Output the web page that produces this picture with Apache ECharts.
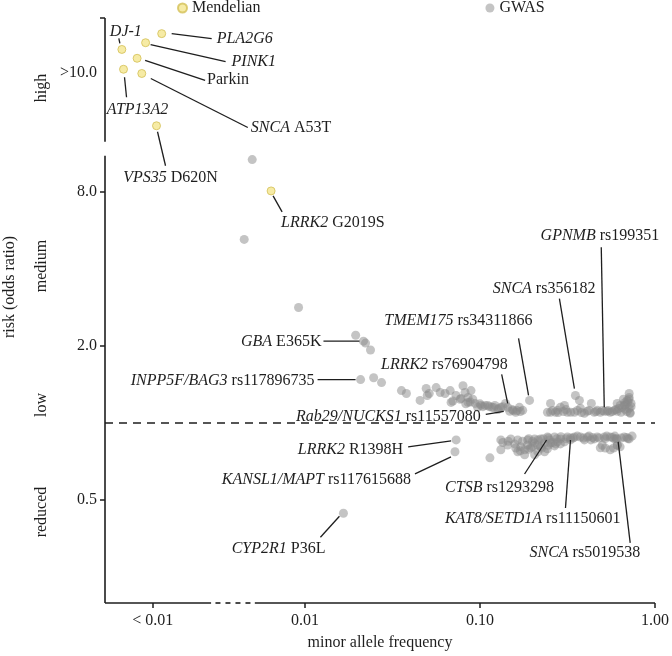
<!DOCTYPE html>
<html>
<head>
<meta charset="utf-8">
<script src="https://cdn.jsdelivr.net/npm/echarts@6/dist/echarts.min.js"></script>
<style>
html, body { margin: 0; padding: 0; background: #fff; }
#chart { width: 672px; height: 656px; }
</style>
</head>
<body>
<div id="chart"></div>
<script>
var FONT = '"Liberation Serif", "Times New Roman", serif';
var INK = '#1e1e1e';

// axes run in log10(MAF) and log2(odds ratio)
var X_MIN = -3.142, X_MAX = 0;
var Y_MIN = -2.333, Y_MAX = 5.256;

var xTickMaf = [0.00135, 0.01, 0.1, 1];
var xTickLabels = ['< 0.01', '0.01', '0.10', '1.00'];
var yTickOr = [23.4, 8, 2, 0.5];
var yTickLabels = ['>10.0', '8.0', '2.0', '0.5'];

// Mendelian variants
var mendelianGene = ['DJ-1', 'PLA2G6', 'PINK1', 'Parkin', 'ATP13A2', 'SNCA', 'VPS35', 'LRRK2'];
var mendelianVariant = ['', '', '', '', '', 'A53T', 'D620N', 'G2019S'];
var mendelianMaf = [0.00090, 0.00152, 0.00123, 0.00110, 0.00092, 0.00117, 0.00142, 0.00641];
var mendelianOr = [28.8, 33.2, 30.6, 26.6, 24.1, 23.2, 14.5, 8.07];

// GWAS hits that carry a label
var gwasLabelGene = ['GBA', 'INPP5F/BAG3', 'TMEM175', 'LRRK2', 'Rab29/NUCKS1', 'SNCA', 'GPNMB',
    'LRRK2', 'KANSL1/MAPT', 'CYP2R1', 'CTSB', 'KAT8/SETD1A', 'SNCA'];
var gwasLabelVariant = ['E365K', 'rs117896735', 'rs34311866', 'rs76904798', 'rs11557080', 'rs356182', 'rs199351',
    'R1398H', 'rs117615688', 'P36L', 'rs1293298', 'rs11150601', 'rs5019538'];
var gwasLabelMaf = [0.0216, 0.0208, 0.192, 0.144, 0.148, 0.351, 0.513, 0.0731, 0.072, 0.0166, 0.2466, 0.329, 0.608];
var gwasLabelOr = [2.09, 1.48, 1.227, 1.153, 1.112, 1.282, 1.112, 0.86, 0.773, 0.445, 0.875, 0.875, 0.868];

// other GWAS hits
var gwasMaf = [
    0.0050, 0.0045, 0.0092, 0.0195, 0.0222, 0.0237, 0.0247, 0.0274, 0.0356, 0.0380,
    0.0493, 0.0513, 0.050, 0.0562, 0.0593, 0.0632, 0.0676, 0.080, 0.0822, 0.0889,
    0.0684, 0.078, 0.0855, 0.0937, 0.1013, 0.111, 0.1217, 0.1316, 0.160, 0.1755,
    0.097, 0.107, 0.117, 0.140, 0.077, 0.0855, 0.073, 0.091, 0.1265, 0.153,
    0.168, 0.0455, 0.07, 0.083, 0.088, 0.1, 0.104, 0.113, 0.12, 0.128,
    0.135, 0.155, 0.163, 0.17,
    0.253, 0.277, 0.304, 0.316, 0.370, 0.375, 0.433, 0.450, 0.585, 0.632,
    0.676, 0.712, 0.712, 0.253, 0.27, 0.33, 0.395, 0.608, 0.667, 0.721,
    0.288, 0.347, 0.411, 0.487, 0.533, 0.555, 0.608, 0.64, 0.676, 0.712,
    0.693, 0.73, 0.66, 0.468, 0.243, 0.26, 0.28, 0.3, 0.31, 0.36,
    0.38, 0.42, 0.46, 0.5, 0.54, 0.57, 0.6, 0.62, 0.65, 0.68,
    0.7, 0.71, 0.73, 0.69, 0.72,
    0.114, 0.1316, 0.1316, 0.150, 0.1644, 0.171, 0.1873, 0.2053, 0.2222, 0.2434,
    0.2667, 0.2884, 0.316, 0.3467, 0.375, 0.411, 0.468, 0.513, 0.555, 0.667,
    0.712, 0.1644, 0.18, 0.195, 0.2136, 0.234, 0.253, 0.2773, 0.304, 0.329,
    0.395, 0.487, 0.555, 0.632, 0.18, 0.2053, 0.234, 0.187, 0.205, 0.222,
    0.243, 0.267, 0.214, 0.288, 0.144, 0.45, 0.585, 0.608, 0.43, 0.74,
    0.135, 0.145, 0.158, 0.175, 0.19, 0.2, 0.215, 0.23, 0.25, 0.26,
    0.275, 0.29, 0.31, 0.34, 0.36, 0.39, 0.42, 0.44, 0.48, 0.52,
    0.53, 0.57, 0.59, 0.6, 0.64, 0.69, 0.7, 0.16, 0.17, 0.19,
    0.2, 0.225, 0.245, 0.27, 0.5, 0.52, 0.58, 0.61
];
var gwasOr = [
    10.7, 5.22, 2.83, 2.205, 2.054, 1.93, 1.505, 1.44, 1.34, 1.306,
    1.365, 1.306, 1.282, 1.377, 1.317, 1.306, 1.34, 1.40, 1.317, 1.34,
    1.205, 1.249, 1.205, 1.194, 1.173, 1.173, 1.173, 1.153, 1.103, 1.122,
    1.153, 1.173, 1.153, 1.194, 1.24, 1.26, 1.282, 1.24, 1.13, 1.13,
    1.153, 1.227, 1.22, 1.19, 1.21, 1.19, 1.16, 1.16, 1.15, 1.14,
    1.16, 1.12, 1.12, 1.11,
    1.194, 1.122, 1.173, 1.103, 1.227, 1.143, 1.194, 1.103, 1.122, 1.173,
    1.205, 1.26, 1.143, 1.103, 1.103, 1.103, 1.093, 1.194, 1.173, 1.093,
    1.153, 1.103, 1.112, 1.103, 1.112, 1.103, 1.112, 1.103, 1.133, 1.306,
    1.227, 1.194, 1.24, 1.122, 1.103, 1.12, 1.1, 1.11, 1.13, 1.12,
    1.1, 1.12, 1.11, 1.12, 1.12, 1.11, 1.13, 1.14, 1.15, 1.18,
    1.21, 1.24, 1.16, 1.11, 1.1,
    0.732, 0.86, 0.787, 0.868, 0.86, 0.808, 0.86, 0.868, 0.868, 0.883,
    0.883, 0.868, 0.883, 0.883, 0.883, 0.883, 0.883, 0.883, 0.883, 0.883,
    0.868, 0.773, 0.787, 0.801, 0.822, 0.837, 0.837, 0.845, 0.845, 0.86,
    0.86, 0.801, 0.787, 0.808, 0.752, 0.752, 0.773, 0.822, 0.837, 0.808,
    0.794, 0.815, 0.773, 0.83, 0.822, 0.868, 0.868, 0.822, 0.86, 0.89,
    0.84, 0.85, 0.83, 0.85, 0.87, 0.85, 0.86, 0.87, 0.86, 0.84,
    0.87, 0.885, 0.87, 0.875, 0.89, 0.875, 0.89, 0.88, 0.875, 0.87,
    0.89, 0.88, 0.89, 0.87, 0.875, 0.88, 0.87, 0.8, 0.78, 0.79,
    0.81, 0.8, 0.82, 0.83, 0.82, 0.8, 0.8, 0.82
];

// label placement, pixel offsets from the point: line p1->p2, text anchor t
var mendelianLayout = [
    { p1: [-2, -6], p2: [-3, -11], t: [4, -18], align: 'center' },
    { p1: [10, 0], p2: [50, 5], t: [55, 5], align: 'left' },
    { p1: [5, 2], p2: [80, 19], t: [86, 19], align: 'left' },
    { p1: [8, 2], p2: [68, 22], t: [70, 22], align: 'left' },
    { p1: [1, 8], p2: [3, 28], t: [14, 41], align: 'center' },
    { p1: [9, 5], p2: [106, 54], t: [109, 54], align: 'left' },
    { p1: [1, 6], p2: [9, 40], t: [14, 52], align: 'center' },
    { p1: [2, 5], p2: [11, 21], t: [10, 32], align: 'left' }
];
var gwasLabelLayout = [
    { p1: [-4, 0], p2: [-40, 0], t: [-42, 1], align: 'right' },
    { p1: [-5, 0], p2: [-43, 0], t: [-46, 1], align: 'right' },
    { p1: [-1, -5], p2: [-11, -62], t: [3, -80], align: 'right' },
    { p1: [0, -4], p2: [-6, -33], t: [0, -43], align: 'right' },
    { p1: [-6, 0], p2: [-24, 3], t: [-29, 5], align: 'right' },
    { p1: [-1, -7], p2: [-16, -97], t: [20, -107], align: 'right' },
    { p1: [0, -4], p2: [-3, -164], t: [55, -176], align: 'right' },
    { p1: [-5, 1], p2: [-48, 7], t: [-53, 10], align: 'right' },
    { p1: [-4, 5], p2: [-40, 22], t: [-44, 28], align: 'right' },
    { p1: [-4, 3], p2: [-23, 24], t: [-18, 36], align: 'right' },
    { p1: [-2, 2], p2: [-24, 36], t: [-49, 50], align: 'center' },
    { p1: [0, 2], p2: [-5, 70], t: [50, 81], align: 'right' },
    { p1: [1, 3], p2: [13, 104], t: [23, 114], align: 'right' }
];

function lx(v) { return Math.log10(v); }
function ly(v) { return Math.log2(v); }

function tickName(val, pos, labels) {
    for (var i = 0; i < pos.length; i++) {
        if (Math.abs(val - pos[i]) < 1e-6) return labels[i];
    }
    return '';
}

var xTickPos = xTickMaf.map(lx);
var yTickPos = yTickOr.map(ly);
var yTickMarks = [Y_MAX].concat(yTickPos.slice(1));

var RICH = {
    i: { fontStyle: 'italic', fontSize: 16, fontFamily: FONT, fill: INK },
    n: { fontSize: 16, fontFamily: FONT, fill: INK }
};

function labelText(gene, variant) {
    if (gene == 'Parkin') return '{n|Parkin}';
    return '{i|' + gene + '}' + (variant ? '{n| ' + variant + '}' : '');
}

function annotations(genes, variants, maf, or, layout) {
    return {
        type: 'custom',
        coordinateSystem: 'cartesian2d',
        silent: true,
        clip: false,
        z: 4,
        encode: { x: 0, y: 1 },
        data: maf.map(function(m, i) { return [lx(m), ly(or[i])]; }),
        renderItem: function(params, api) {
            var i = params.dataIndex;
            var p = api.coord([api.value(0), api.value(1)]);
            var l = layout[i];
            return {
                type: 'group',
                children: [ {
                    type: 'line',
                    shape: { x1: p[0] + l.p1[0], y1: p[1] + l.p1[1], x2: p[0] + l.p2[0], y2: p[1] + l.p2[1] },
                    style: { stroke: INK, lineWidth: 1.3 }
                }, {
                    type: 'text',
                    x: p[0] + l.t[0],
                    y: p[1] + l.t[1],
                    style: {
                        text: labelText(genes[i], variants[i]),
                        rich: RICH,
                        font: '16px ' + FONT,
                        fill: INK,
                        align: l.align,
                        verticalAlign: 'middle'
                    }
                } ]
            };
        }
    };
}

function seg(x1, y1, x2, y2, dash) {
    return [ { coord: [x1, y1], lineStyle: { type: dash || 'solid' } }, { coord: [x2, y2] } ];
}

var gwasData = gwasMaf.map(function(m, i) { return [lx(m), ly(gwasOr[i])]; })
    .concat(gwasLabelMaf.map(function(m, i) { return [lx(m), ly(gwasLabelOr[i])]; }));
var mendelianData = mendelianMaf.map(function(m, i) { return [lx(m), ly(mendelianOr[i])]; });

var chart = echarts.init(document.getElementById('chart'), null, { renderer: 'canvas' });
var option = {
    animation: false,
    backgroundColor: '#fff',
    textStyle: { fontFamily: FONT },
    grid: { left: 105, right: 14, top: 18, bottom: 46 },
    legend: {
        data: [ 'Mendelian', 'GWAS' ],
        left: 177,
        top: 0,
        padding: 0,
        itemWidth: 9,
        itemHeight: 9,
        itemGap: 225,
        icon: 'circle',
        textStyle: { fontFamily: FONT, fontSize: 16, color: INK }
    },
    xAxis: {
        type: 'value',
        min: X_MIN,
        max: X_MAX,
        axisLine: { show: false, onZero: false },
        splitLine: { show: false },
        axisTick: { show: true, length: 5, customValues: xTickPos, lineStyle: { color: INK, width: 1.5 } },
        axisLabel: {
            customValues: xTickPos,
            margin: 10,
            fontFamily: FONT,
            fontSize: 16,
            color: INK,
            formatter: function(v) { return tickName(v, xTickPos, xTickLabels); }
        },
        name: 'minor allele frequency',
        nameLocation: 'middle',
        nameGap: 32,
        nameTextStyle: { fontFamily: FONT, fontSize: 16, color: INK }
    },
    yAxis: {
        type: 'value',
        min: Y_MIN,
        max: Y_MAX,
        axisLine: { show: false, onZero: false },
        splitLine: { show: false },
        axisTick: { show: true, length: 5, customValues: yTickMarks, lineStyle: { color: INK, width: 1.5 } },
        axisLabel: {
            customValues: yTickPos,
            margin: 8,
            fontFamily: FONT,
            fontSize: 16,
            color: INK,
            formatter: function(v) { return tickName(v, yTickPos, yTickLabels); }
        }
    },
    graphic: [
        { type: 'text', x: 10, y: 287, rotation: Math.PI / 2, style: { text: 'risk (odds ratio)', font: '16px ' + FONT, fill: INK, align: 'center', verticalAlign: 'middle' } },
        { type: 'text', x: 42, y: 88, rotation: Math.PI / 2, style: { text: 'high', font: '16px ' + FONT, fill: INK, align: 'center', verticalAlign: 'middle' } },
        { type: 'text', x: 42, y: 266, rotation: Math.PI / 2, style: { text: 'medium', font: '16px ' + FONT, fill: INK, align: 'center', verticalAlign: 'middle' } },
        { type: 'text', x: 42, y: 405, rotation: Math.PI / 2, style: { text: 'low', font: '16px ' + FONT, fill: INK, align: 'center', verticalAlign: 'middle' } },
        { type: 'text', x: 42, y: 512, rotation: Math.PI / 2, style: { text: 'reduced', font: '16px ' + FONT, fill: INK, align: 'center', verticalAlign: 'middle' } }
    ],
    series: [ {
        name: 'GWAS',
        type: 'scatter',
        symbolSize: 9,
        clip: false,
        z: 2,
        itemStyle: { color: '#8a8a8a', opacity: 0.5 },
        data: gwasData,
        markLine: {
            silent: true,
            symbol: [ 'none', 'none' ],
            label: { show: false },
            lineStyle: { color: INK, width: 1.6, cap: 'butt' },
            emphasis: { disabled: true },
            data: [
                seg(X_MIN, 3.65, X_MIN, Y_MAX),
                seg(X_MIN, Y_MIN, X_MIN, 3.47),
                seg(X_MIN, Y_MIN, -2.536, Y_MIN),
                seg(-2.511, Y_MIN, -2.301, Y_MIN, [5, 5]),
                seg(-2.286, Y_MIN, X_MAX, Y_MIN),
                seg(X_MIN, 0, X_MAX, 0, [8, 6])
            ]
        }
    }, {
        name: 'Mendelian',
        type: 'scatter',
        symbolSize: 8,
        clip: false,
        z: 3,
        itemStyle: { color: '#f4e68e', borderColor: '#d3bf55', borderWidth: 1 },
        data: mendelianData
    },
    annotations(mendelianGene, mendelianVariant, mendelianMaf, mendelianOr, mendelianLayout),
    annotations(gwasLabelGene, gwasLabelVariant, gwasLabelMaf, gwasLabelOr, gwasLabelLayout) ]
};
chart.setOption(option);
</script>
</body>
</html>
